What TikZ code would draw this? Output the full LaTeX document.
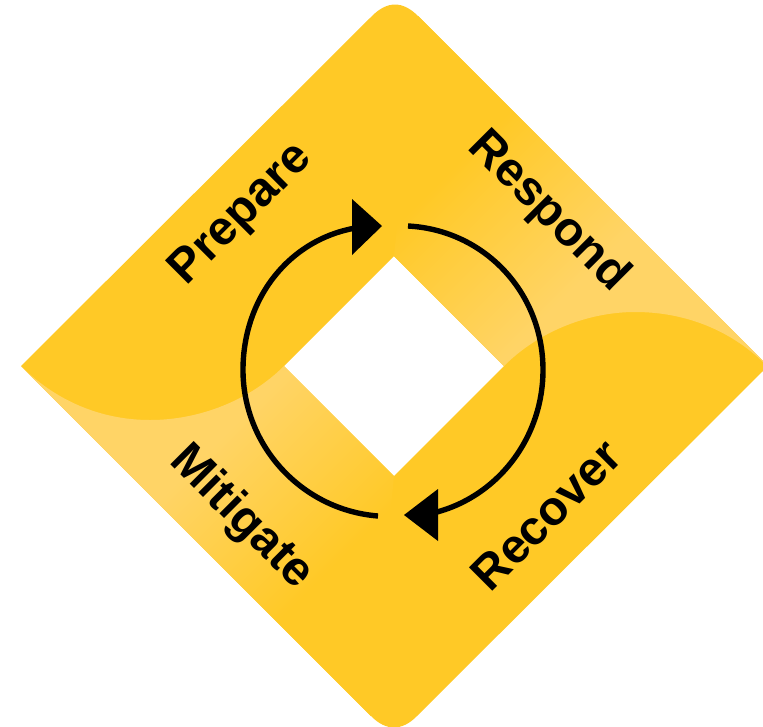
\documentclass[tikz,border=0pt]{standalone}
\usepackage{fontspec}
\setmainfont{Liberation Sans}
\definecolor{dk}{HTML}{FFC926}
\definecolor{lt}{HTML}{FFD466}
\pgfdeclarehorizontalshading{bandfade}{100bp}{color(0bp)=(dk); color(43.8bp)=(dk); color(54.5bp)=(lt); color(100bp)=(lt)}
\tikzset{
  lbl/.style={font=\bfseries\fontsize{48}{48}\selectfont, text=black, inner sep=0pt},
  arcline/.style={draw=black, line width=5.4pt},
  head/.style={fill=black, draw=none},
}
\begin{document}
\begin{tikzpicture}[x=1pt,y=-1pt]
\useasboundingbox (0,0) rectangle (763,726);
% diamond with hole
\fill[dk,even odd rule] (21,366) -- (372,16) .. controls (387.3,0.7) and (402.7,0.7) .. (418,16)
  -- (768,366) -- (417,716) .. controls (402,731.3) and (386,731.3) .. (371,716) -- cycle
  (394,256) -- (504,366) -- (394,476) -- (284,366) -- cycle;
% lighter upper right band
\begin{scope}
\clip (418,16) -- (768,366) -- (764,363) .. controls (730,330) and (685,312) .. (635,312)
   .. controls (590,312) and (540,330) .. (504,366) -- (394,256) -- cycle;
\shade[shading=bandfade,shading angle=-45] (-6,-34) rectangle (794,766);
\end{scope}
% lighter lower left band
\begin{scope}
\clip (21,366) .. controls (55,400) and (100,420) .. (150,420)
   .. controls (200,420) and (250,400) .. (284,366) -- (394,476) -- (371,716) -- cycle;
\shade[shading=bandfade,shading angle=135] (-6,-34) rectangle (794,766);
\end{scope}
% cycle arrows
\coordinate (a1) at (408,226);
\coordinate (a2) at (543,370);
\coordinate (a3) at (416,516);
\coordinate (b1) at (378,516);
\coordinate (b2) at (243,370);
\coordinate (b3) at (362,227);
\draw[arcline] (a1) .. controls (484,230) and (543,292) .. (a2) .. controls (543,445) and (488,508) .. (a3);
\draw[arcline] (b1) .. controls (302,510) and (243,446) .. (b2) .. controls (243,296) and (292,236) .. (b3);
\fill[head] (352,199) -- (382,226) -- (352,255) -- cycle;
\fill[head] (438,489) -- (404,515) -- (438,541) -- cycle;
% labels
\node[lbl,rotate=45] (prepare) at (242,215) {Prepare};
\node[lbl,rotate=-45] (respond) at (548,212) {Respond};
\node[lbl,rotate=45] (recover) at (546,515) {Recover};
\node[lbl,rotate=-45] (mitigate) at (241,518) {Mitigate};
\end{tikzpicture}
\end{document}
